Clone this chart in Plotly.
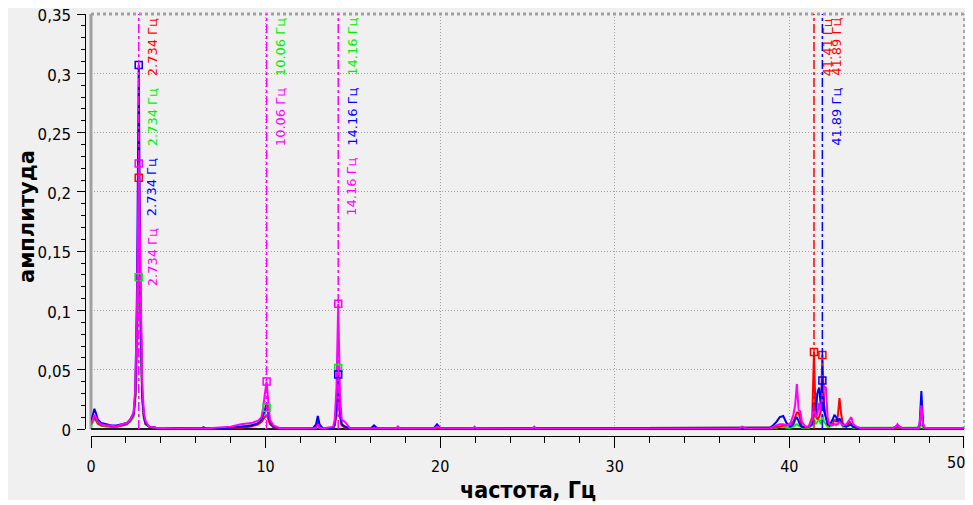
import plotly.graph_objects as go

# ---------------- data ----------------
freq = [
    0.0, 0.098, 0.195, 0.293, 0.391, 0.586, 0.879, 1.172, 1.465, 1.758, 2.051, 2.246, 2.441, 2.539, 2.637, 2.734, 2.832, 2.930, 3.027, 3.125, 3.320, 3.711,
    5.0, 6.348, 6.445, 6.543, 8.0, 8.594, 9.180, 9.570, 9.766, 9.863, 9.961, 10.06, 10.16, 10.25, 10.45, 10.84,
    12.70, 12.89, 12.99, 13.09, 13.28, 13.87, 13.96, 14.06, 14.16, 14.26, 14.36, 14.55, 14.84,
    16.02, 16.21, 16.41, 17.48, 17.58, 17.68, 19.63, 19.82, 20.02, 21.88, 21.97, 22.07, 25.29, 25.39, 25.49, 37.11, 37.30, 37.50,
    38.87, 39.06, 39.26, 39.45, 39.65, 39.84, 40.04, 40.23, 40.33, 40.43, 40.53, 40.63, 40.72, 40.92, 41.11, 41.31, 41.41, 41.50, 41.60, 41.70,
    41.80, 41.89, 41.99, 42.09, 42.19, 42.29, 42.48, 42.58, 42.68, 42.77, 42.87, 42.97, 43.07, 43.26, 43.46, 43.55, 43.65, 43.85, 44.14,
    45.90, 46.09, 46.19, 46.29, 46.48, 47.36, 47.46, 47.56, 47.66, 47.75, 48.05, 50.0,
]

amp_blue = [
    0.006, 0.012, 0.017, 0.013, 0.008, 0.005, 0.004, 0.003, 0.003, 0.004, 0.005, 0.008, 0.013, 0.030, 0.120, 0.307, 0.110, 0.030, 0.011, 0.005, 0.002, 0.001,
    0.0005, 0.0005, 0.0015, 0.0005, 0.001, 0.002, 0.003, 0.005, 0.008, 0.012, 0.016, 0.022, 0.012, 0.006, 0.002, 0.0005,
    0.0005, 0.004, 0.011, 0.004, 0.0005, 0.001, 0.004, 0.018, 0.046, 0.015, 0.004, 0.002, 0.0005,
    0.0005, 0.003, 0.0005, 0.0005, 0.001, 0.0005, 0.0005, 0.004, 0.0005, 0.0005, 0.001, 0.0005, 0.0005, 0.001, 0.0005, 0.0005, 0.001, 0.0005,
    0.001, 0.003, 0.006, 0.010, 0.011, 0.005, 0.002, 0.004, 0.008, 0.010, 0.006, 0.003, 0.002, 0.002, 0.002, 0.004, 0.022, 0.010, 0.030, 0.035,
    0.020, 0.041, 0.015, 0.010, 0.004, 0.003, 0.008, 0.012, 0.010, 0.006, 0.009, 0.006, 0.003, 0.002, 0.003, 0.004, 0.002, 0.001, 0.0005,
    0.0005, 0.002, 0.003, 0.002, 0.0005, 0.0005, 0.004, 0.032, 0.004, 0.001, 0.0005, 0.0005,
]

amp_red = [
    0.004, 0.008, 0.010, 0.008, 0.005, 0.003, 0.003, 0.002, 0.002, 0.003, 0.004, 0.007, 0.012, 0.028, 0.095, 0.212, 0.100, 0.028, 0.010, 0.004, 0.002, 0.001,
    0.0005, 0.0005, 0.001, 0.0005, 0.001, 0.001, 0.002, 0.004, 0.006, 0.008, 0.010, 0.012, 0.008, 0.004, 0.0015, 0.0005,
    0.0005, 0.002, 0.006, 0.002, 0.0005, 0.001, 0.003, 0.012, 0.032, 0.010, 0.003, 0.001, 0.0005,
    0.0005, 0.001, 0.0005, 0.0005, 0.002, 0.0005, 0.0005, 0.001, 0.0005, 0.0005, 0.001, 0.0005, 0.0005, 0.001, 0.0005, 0.0005, 0.001, 0.0005,
    0.0005, 0.001, 0.002, 0.002, 0.003, 0.003, 0.004, 0.006, 0.010, 0.014, 0.014, 0.006, 0.002, 0.001, 0.002, 0.010, 0.065, 0.012, 0.008, 0.010,
    0.015, 0.0625, 0.020, 0.010, 0.004, 0.003, 0.004, 0.008, 0.006, 0.010, 0.026, 0.012, 0.004, 0.003, 0.006, 0.004, 0.002, 0.001, 0.0005,
    0.0005, 0.001, 0.002, 0.001, 0.0005, 0.0005, 0.003, 0.018, 0.003, 0.001, 0.0005, 0.0005,
]

amp_green = [
    0.003, 0.006, 0.008, 0.007, 0.004, 0.003, 0.002, 0.002, 0.002, 0.003, 0.004, 0.006, 0.010, 0.022, 0.060, 0.128, 0.075, 0.024, 0.009, 0.004, 0.002, 0.001,
    0.0005, 0.0005, 0.001, 0.0005, 0.001, 0.002, 0.003, 0.004, 0.007, 0.010, 0.014, 0.018, 0.010, 0.005, 0.002, 0.0005,
    0.0005, 0.001, 0.003, 0.001, 0.0005, 0.001, 0.004, 0.020, 0.0515, 0.018, 0.004, 0.002, 0.0005,
    0.0005, 0.001, 0.0005, 0.0005, 0.001, 0.0005, 0.0005, 0.001, 0.0005, 0.0005, 0.001, 0.0005, 0.0005, 0.001, 0.0005, 0.0005, 0.001, 0.0005,
    0.0005, 0.001, 0.001, 0.002, 0.002, 0.001, 0.001, 0.002, 0.003, 0.004, 0.003, 0.002, 0.001, 0.001, 0.001, 0.003, 0.010, 0.004, 0.006, 0.008,
    0.004, 0.012, 0.006, 0.004, 0.002, 0.002, 0.003, 0.004, 0.003, 0.004, 0.008, 0.004, 0.002, 0.002, 0.004, 0.003, 0.001, 0.001, 0.0005,
    0.0005, 0.001, 0.001, 0.001, 0.0005, 0.0005, 0.001, 0.004, 0.001, 0.0005, 0.0005, 0.0005,
]

amp_magenta = [
    0.004, 0.009, 0.012, 0.010, 0.006, 0.004, 0.003, 0.003, 0.002, 0.004, 0.005, 0.008, 0.014, 0.035, 0.105, 0.224, 0.130, 0.040, 0.014, 0.007, 0.002, 0.001,
    0.0005, 0.0005, 0.001, 0.0005, 0.002, 0.004, 0.005, 0.007, 0.010, 0.018, 0.030, 0.040, 0.022, 0.008, 0.003, 0.0005,
    0.0005, 0.001, 0.004, 0.001, 0.0005, 0.002, 0.008, 0.035, 0.1057, 0.030, 0.008, 0.006, 0.0005,
    0.0005, 0.001, 0.0005, 0.0005, 0.002, 0.0005, 0.0005, 0.002, 0.0005, 0.0005, 0.002, 0.0005, 0.0005, 0.002, 0.0005, 0.0005, 0.002, 0.0005,
    0.0005, 0.002, 0.003, 0.004, 0.004, 0.003, 0.004, 0.012, 0.020, 0.038, 0.016, 0.015, 0.006, 0.002, 0.002, 0.008, 0.020, 0.010, 0.012, 0.022,
    0.015, 0.030, 0.036, 0.035, 0.010, 0.004, 0.003, 0.004, 0.004, 0.004, 0.006, 0.004, 0.003, 0.004, 0.008, 0.010, 0.004, 0.002, 0.0005,
    0.0005, 0.002, 0.004, 0.002, 0.0005, 0.0005, 0.004, 0.020, 0.004, 0.001, 0.0005, 0.0005,
]

# peak markers: (frequency, amplitude) per series
mark_blue_f = [2.734, 14.16, 41.89]
mark_blue_a = [0.307, 0.046, 0.041]
mark_red_f = [2.734, 41.41, 41.89]
mark_red_a = [0.212, 0.065, 0.0625]
mark_green_f = [2.734, 10.06, 14.16]
mark_green_a = [0.128, 0.018, 0.0515]
mark_magenta_f = [2.734, 10.06, 14.16]
mark_magenta_a = [0.224, 0.040, 0.1057]

# vertical marker lines
vline_f = [2.734, 10.06, 14.16, 41.41, 41.89]
vline_c = ["magenta", "magenta", "magenta", "red", "blue"]

# marker labels: frequency of line, text, colour, row (0 = top)
label_f = [2.734, 2.734, 2.734, 2.734, 10.06, 10.06, 14.16, 14.16, 14.16, 41.41, 41.89, 41.89]
label_t = ["2.734 Гц", "2.734 Гц", "2.734 Гц", "2.734 Гц", "10.06 Гц", "10.06 Гц",
           "14.16 Гц", "14.16 Гц", "14.16 Гц", "41.41 Гц", "41.89 Гц", "41.89 Гц"]
label_c = ["red", "green", "blue", "magenta", "green", "magenta",
           "green", "blue", "magenta", "red", "red", "blue"]
label_row = [0, 1, 2, 3, 0, 1, 0, 1, 2, 0, 0, 1]

x_ticks = [0, 10, 20, 30, 40, 50]
x_ticktext = ["0", "10", "20", "30", "40", ""]   # last label placed separately (right edge)
x_last_label = "50"
y_ticks = [0, 0.05, 0.1, 0.15, 0.2, 0.25, 0.3, 0.35]

# ---------------- styling ----------------
OFF = 8                      # page body margin of the html page
W, H = 973 - OFF, 505 - OFF
COL = {"blue": "#0000ff", "red": "#ff0000", "green": "#00ee00", "magenta": "#ff00ff"}
BG = "#f0f0f0"
GRID = "#a0a0a0"
NARROW = "Liberation Sans Narrow, DejaVu Sans Condensed, sans-serif"


def px_x(p):
    """reference-image x pixel -> paper fraction"""
    return (p - OFF) / W


def px_y(p):
    """reference-image y pixel -> paper fraction"""
    return (H - (p - OFF)) / H


fig = go.Figure()

for name, amp in [("green", amp_green), ("red", amp_red), ("blue", amp_blue), ("magenta", amp_magenta)]:
    fig.add_trace(go.Scatter(x=freq, y=amp, mode="lines",
                             line=dict(color=COL[name], width=2), showlegend=False,
                             hoverinfo="skip"))

for name, mf, ma in [("green", mark_green_f, mark_green_a), ("red", mark_red_f, mark_red_a),
                     ("blue", mark_blue_f, mark_blue_a), ("magenta", mark_magenta_f, mark_magenta_a)]:
    fig.add_trace(go.Scatter(x=mf, y=ma, mode="markers",
                             marker=dict(symbol="square-open", size=7, color=COL[name],
                                         line=dict(width=1.5, color=COL[name])),
                             showlegend=False, hoverinfo="skip"))

shapes = []
# grey background panel (thin white border around image)
shapes.append(dict(type="rect", xref="paper", yref="paper",
                   x0=0, x1=px_x(968), y0=px_y(500), y1=1,
                   fillcolor=BG, line=dict(width=0), layer="below"))
# frame of plot area
shapes.append(dict(type="line", xref="x domain", yref="y domain", x0=0, x1=0, y0=0, y1=1,
                   line=dict(color="#a0a0a0", width=3), layer="below"))
shapes.append(dict(type="line", xref="x domain", yref="y domain", x0=0, x1=1, y0=1, y1=1,
                   line=dict(color="#a0a0a0", width=3, dash="dot"), layer="below"))
shapes.append(dict(type="line", xref="x domain", yref="y domain", x0=1, x1=1, y0=0, y1=1,
                   line=dict(color="#a8a8a8", width=2, dash="dot"), layer="below"))
shapes.append(dict(type="line", xref="x domain", yref="y domain", x0=0, x1=1, y0=0, y1=0,
                   line=dict(color="#202020", width=2), layer="below"))

for f, c in zip(vline_f, vline_c):
    shapes.append(dict(type="line", xref="x", yref="y domain", x0=f, x1=f, y0=0, y1=1,
                       line=dict(color=COL[c], width=1.5, dash="dashdot"), layer="above"))

annotations = []
row_top = [16, 86, 156, 226]
for f, t, c, r in zip(label_f, label_t, label_c, label_row):
    annotations.append(dict(x=f, xref="x", y=px_y(row_top[r]), yref="paper",
                            text=t, showarrow=False, textangle=-90,
                            xanchor="left", yanchor="top", xshift=4,
                            font=dict(family="DejaVu Sans", size=13, color=COL[c])))

annotations.append(dict(x=px_x(27), y=px_y(217), xref="paper", yref="paper",
                        text="амплитуда", showarrow=False, textangle=-90,
                        xanchor="center", yanchor="middle",
                        font=dict(family="DejaVu Sans", size=21, color="#000", weight="bold")))
annotations.append(dict(x=px_x(528), y=px_y(490), xref="paper", yref="paper",
                        text="частота, Гц", showarrow=False,
                        xanchor="center", yanchor="middle",
                        font=dict(family=NARROW, size=23, color="#000", weight="bold")))
# last x tick label, kept inside the visible page
annotations.append(dict(x=px_x(966), y=px_y(462), xref="paper", yref="paper",
                        text=x_last_label, showarrow=False,
                        xanchor="right", yanchor="middle", borderpad=0,
                        font=dict(family=NARROW, size=16, color="#000")))

fig.update_layout(
    width=W, height=H,
    margin=dict(l=0, r=0, t=0, b=0, autoexpand=False),
    paper_bgcolor="white",
    plot_bgcolor=BG,
    separators=", ",
    shapes=shapes,
    annotations=annotations,
    showlegend=False,
    xaxis=dict(
        domain=[px_x(91), px_x(964)], range=[0, 50.002],
        anchor="free", position=px_y(436),
        tickvals=x_ticks, ticktext=x_ticktext,
        ticks="outside", ticklen=11, tickwidth=1, tickcolor="#000",
        showline=True, linecolor="#000", linewidth=1,
        showgrid=True, gridcolor=GRID, griddash="1px,2px", gridwidth=1,
        zeroline=False, automargin=False, ticklabelstandoff=5,
        ticklabeloverflow="allow",
        minor=dict(dtick=2, ticks="outside", ticklen=6, tickcolor="#000", showgrid=False),
        tickfont=dict(family=NARROW, size=16, color="#000"),
    ),
    yaxis=dict(
        domain=[px_y(429), px_y(14)], range=[0, 0.35002],
        anchor="free", position=px_x(85),
        tickvals=y_ticks, ticks="outside", ticklen=8, tickwidth=1, tickcolor="#000",
        showline=True, linecolor="#000", linewidth=1,
        showgrid=True, gridcolor=GRID, griddash="1px,2px", gridwidth=1,
        zeroline=False, automargin=False, ticklabelstandoff=3, ticklabelshift=2,
        ticklabeloverflow="allow",
        minor=dict(dtick=0.01, ticks="outside", ticklen=4, tickcolor="#000", showgrid=False),
        tickfont=dict(family="DejaVu Sans", size=15, color="#000"),
    ),
)

fig.write_html("out.html")
